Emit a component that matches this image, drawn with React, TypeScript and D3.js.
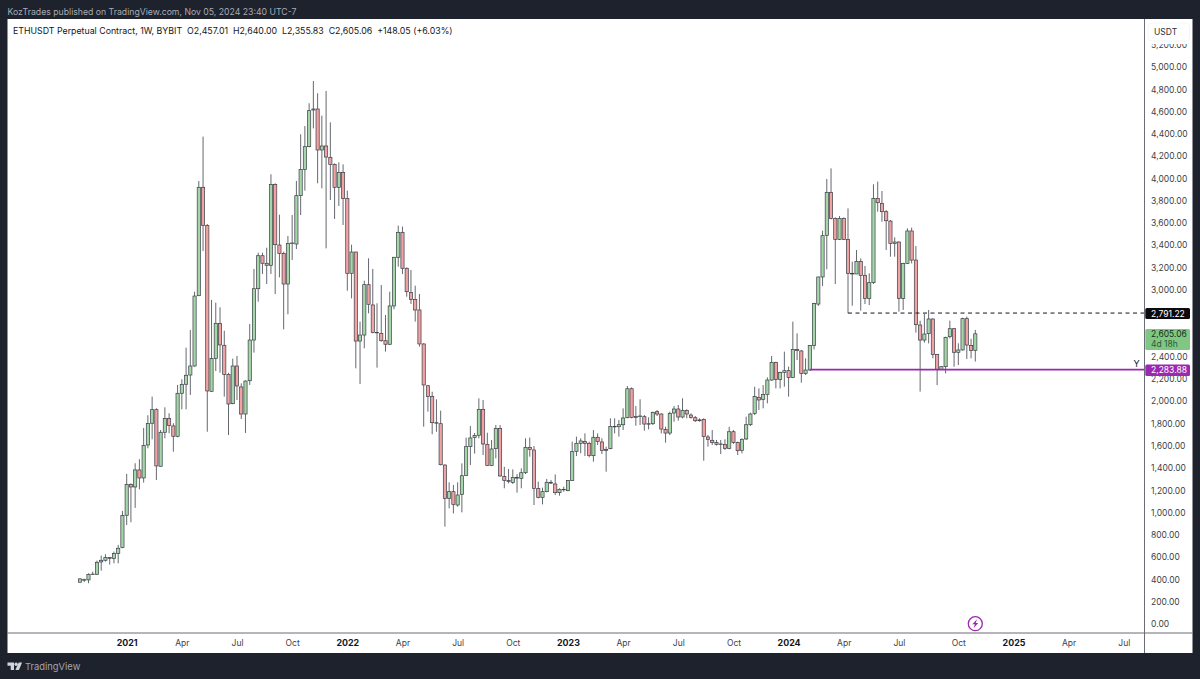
import React, { useEffect, useRef } from "react";
import * as d3 from "d3";

const opens = [
  375, 395, 396, 446, 446, 557, 572, 596, 587, 632,
  686, 976, 1251, 1230, 1383, 1311, 1607, 1802, 1924, 1416,
  1721, 1844, 1778, 1685, 2071, 2152, 2235, 2316, 2947, 3920,
  3576, 2089, 2385, 2699, 2502, 2241, 1978, 2316, 2128, 1885,
  2184, 2549, 3010, 3306, 3238, 3220, 3944, 3402, 3327, 3052,
  3417, 3411, 3845, 4081, 4285, 4614, 4623, 4255, 4291, 4189,
  4126, 3920, 4054, 3821, 3148, 3339, 2540, 2594, 3046, 2864,
  2618, 2609, 2543, 2511, 2855, 3292, 3516, 3193, 2977, 2914,
  2819, 2514, 2139, 2041, 1807, 1798, 1427, 1128, 1188, 1068,
  1164, 1334, 1592, 1673, 1694, 1927, 1613, 1424, 1574, 1756,
  1323, 1287, 1269, 1314, 1308, 1358, 1586, 1562, 1215, 1137,
  1188, 1272, 1257, 1179, 1209, 1197, 1287, 1550, 1622, 1637,
  1622, 1511, 1676, 1634, 1559, 1574, 1774, 1771, 1789, 1852,
  2112, 1855, 1864, 1861, 1795, 1798, 1906, 1885, 1747, 1714,
  1894, 1930, 1858, 1918, 1876, 1852, 1825, 1837, 1679, 1649,
  1628, 1613, 1610, 1577, 1726, 1628, 1559, 1661, 1789, 1891,
  2032, 2017, 2062, 2190, 2349, 2196, 2259, 2274, 2214, 2465,
  2451, 2250, 2280, 2501, 2872, 3115, 3489, 3875, 3641, 3453,
  3641, 3453, 3148, 3142, 3255, 3130, 2923, 3064, 3821, 3776,
  3701, 3617, 3417, 3429, 2923, 3237, 3528, 3267, 2684, 2549,
  2606, 2738, 2418, 2286, 2310, 2579, 2651, 2439, 2460, 2741,
  2501, 2457.01,
];

const highs = [
  410, 407, 455, 470, 569, 614, 626, 599, 650, 710,
  1015, 1347, 1263, 1443, 1479, 1760, 1874, 2041, 1936, 1742,
  1945, 1892, 1802, 2146, 2197, 2480, 2639, 2983, 3977, 4375,
  3590, 2909, 2885, 2843, 2633, 2255, 2382, 2406, 2160, 2187,
  2693, 3187, 3333, 3333, 3378, 4037, 3956, 3674, 3342, 3483,
  3671, 3977, 4396, 4470, 4674, 4874, 4764, 4563, 4785, 4503,
  4135, 4144, 4126, 3890, 3405, 3342, 2714, 3082, 3283, 3187,
  2879, 3043, 2774, 2983, 3295, 3576, 3567, 3202, 3178, 3037,
  2962, 2520, 2145, 2085, 2017, 1915, 1433, 1272, 1248, 1272,
  1442, 1673, 1777, 1715, 2026, 2011, 1717, 1652, 1786, 1786,
  1412, 1391, 1388, 1346, 1397, 1667, 1673, 1598, 1278, 1224,
  1302, 1293, 1343, 1218, 1233, 1293, 1637, 1682, 1667, 1711,
  1637, 1741, 1711, 1667, 1592, 1846, 1846, 1831, 1936, 2136,
  2124, 1957, 2017, 1876, 1855, 1906, 1921, 1891, 1771, 1906,
  1957, 1966, 2026, 1927, 1891, 1867, 1846, 1846, 1697, 1741,
  1652, 1652, 1658, 1771, 1741, 1637, 1667, 1861, 1897, 2130,
  2115, 2145, 2214, 2406, 2355, 2265, 2445, 2310, 2714, 2609,
  2460, 2385, 2504, 2884, 3118, 3531, 3994, 4090, 3650, 3662,
  3650, 3731, 3252, 3357, 3282, 3214, 3148, 3947, 3971, 3887,
  3716, 3626, 3471, 3435, 3243, 3552, 3558, 3393, 2723, 2783,
  2819, 2744, 2424, 2316, 2579, 2723, 2654, 2520, 2750, 2759,
  2560, 2640.0,
];

const lows = [
  372, 377, 366, 440, 440, 479, 560, 533, 545, 545,
  680, 889, 913, 1042, 1209, 1269, 1577, 1658, 1293, 1413,
  1667, 1712, 1547, 1676, 1927, 1927, 2056, 2310, 2944, 3348,
  1726, 2083, 2271, 2256, 2041, 1697, 1972, 2011, 1840, 1715,
  2146, 2436, 2893, 3142, 3052, 3142, 2962, 3112, 2645, 2780,
  3268, 3366, 3671, 3890, 4279, 4449, 3956, 3911, 3372, 3806,
  3636, 3752, 3582, 2992, 2923, 2295, 2155, 2475, 2789, 2609,
  2301, 2534, 2445, 2505, 2825, 3208, 3142, 2938, 2873, 2714,
  2490, 1771, 1906, 1703, 1726, 1424, 874, 1038, 993, 1053,
  1002, 1328, 1427, 1530, 1667, 1517, 1418, 1418, 1487, 1323,
  1218, 1263, 1257, 1179, 1218, 1346, 1502, 1068, 1128, 1074,
  1182, 1257, 1158, 1152, 1188, 1191, 1284, 1508, 1532, 1508,
  1496, 1457, 1607, 1526, 1367, 1568, 1711, 1682, 1741, 1846,
  1846, 1780, 1786, 1735, 1747, 1786, 1867, 1711, 1628, 1696,
  1816, 1825, 1846, 1846, 1843, 1813, 1816, 1466, 1592, 1607,
  1601, 1526, 1562, 1568, 1616, 1517, 1532, 1652, 1777, 1876,
  1921, 1936, 1981, 2184, 2115, 2115, 2130, 2041, 2208, 2370,
  2166, 2235, 2274, 2465, 2855, 3034, 3184, 3632, 3052, 3447,
  3447, 2789, 2857, 3142, 2813, 2872, 2863, 3052, 3701, 3611,
  3357, 3297, 3297, 2804, 2819, 3231, 3237, 2615, 2086, 2525,
  2519, 2385, 2145, 2280, 2250, 2564, 2310, 2325, 2454, 2379,
  2385, 2355.83,
];

const closes = [
  405, 398, 446, 448, 554, 572, 596, 590, 632, 680,
  973, 1251, 1230, 1383, 1311, 1604, 1799, 1924, 1419, 1721,
  1844, 1781, 1685, 2071, 2149, 2233, 2316, 2944, 3920, 3579,
  2092, 2382, 2699, 2505, 2241, 1975, 2316, 2137, 1885, 2181,
  2549, 3010, 3306, 3238, 3220, 3944, 3405, 3327, 3052, 3417,
  3420, 3845, 4081, 4285, 4608, 4623, 4255, 4291, 4192, 4126,
  3920, 4054, 3821, 3148, 3339, 2540, 2594, 3046, 2870, 2618,
  2615, 2543, 2511, 2855, 3292, 3516, 3193, 2983, 2914, 2819,
  2514, 2146, 2041, 1807, 1804, 1430, 1128, 1188, 1074, 1158,
  1331, 1592, 1670, 1691, 1927, 1616, 1424, 1571, 1756, 1329,
  1287, 1280, 1314, 1311, 1358, 1586, 1568, 1218, 1137, 1188,
  1272, 1265, 1179, 1209, 1205, 1287, 1547, 1622, 1643, 1622,
  1514, 1676, 1637, 1559, 1568, 1774, 1772, 1789, 1849, 2112,
  1855, 1864, 1867, 1795, 1798, 1900, 1885, 1750, 1714, 1891,
  1930, 1858, 1918, 1885, 1855, 1825, 1832, 1682, 1655, 1628,
  1613, 1616, 1577, 1726, 1628, 1556, 1658, 1789, 1885, 2041,
  2011, 2059, 2190, 2349, 2196, 2259, 2274, 2214, 2465, 2454,
  2250, 2280, 2501, 2878, 3115, 3486, 3875, 3641, 3453, 3641,
  3453, 3148, 3142, 3255, 3130, 2923, 3064, 3821, 3782, 3701,
  3620, 3417, 3429, 2923, 3237, 3528, 3267, 2687, 2549, 2603,
  2738, 2418, 2286, 2310, 2573, 2651, 2439, 2460, 2741, 2504,
  2454, 2605.06,
];

const firstWeek = new Date(2020, 9, 19);
const lastWeek = new Date(2024, 10, 4);
const weeks = opens.map((_, i) => d3.timeWeek.offset(firstWeek, i));

// 2,600 and 2,800 sit under the price tags, so they are not listed
const priceTicks = [
  0, 200, 400, 600, 800, 1000, 1200, 1400, 1600, 1800, 2000, 2200, 2400,
  3000, 3200, 3400, 3600, 3800, 4000, 4200, 4400, 4600, 4800, 5000, 5200,
];

const timeTicks: [Date, string, boolean][] = [
  [new Date(2021, 0, 4), "2021", true],
  [new Date(2021, 3, 5), "Apr", false],
  [new Date(2021, 6, 5), "Jul", false],
  [new Date(2021, 9, 4), "Oct", false],
  [new Date(2022, 0, 3), "2022", true],
  [new Date(2022, 3, 4), "Apr", false],
  [new Date(2022, 6, 4), "Jul", false],
  [new Date(2022, 9, 3), "Oct", false],
  [new Date(2023, 0, 2), "2023", true],
  [new Date(2023, 3, 3), "Apr", false],
  [new Date(2023, 6, 3), "Jul", false],
  [new Date(2023, 9, 2), "Oct", false],
  [new Date(2024, 0, 1), "2024", true],
  [new Date(2024, 3, 1), "Apr", false],
  [new Date(2024, 6, 1), "Jul", false],
  [new Date(2024, 9, 7), "Oct", false],
  [new Date(2025, 0, 6), "2025", true],
  [new Date(2025, 3, 7), "Apr", false],
  [new Date(2025, 6, 7), "Jul", false],
];

const publishedText = "KozTrades published on TradingView.com, Nov 05, 2024 23:40 UTC-7";
const legendText = "ETHUSDT Perpetual Contract, 1W, BYBIT  O2,457.01  H2,640.00  L2,355.83  C2,605.06  +148.05 (+6.03%)";

const resistance = 2791.22;
const support = 2283.88;
const resistanceStart = 181;
const supportStart = 172;

const WIDTH = 1200;
const HEIGHT = 679;
const FONT = "Inter, 'Noto Sans', sans-serif";
const DARK = "#1e222d";
const UP = "#a5d6a7";
const DOWN = "#f1a3a3";
const CANDLE_EDGE = "#3a3e48";
const PURPLE = "#9c27b0";
const AXIS_LINE = "#6a6d78";
const LABEL = 8.5;

const App: React.FC = () => {
  const svgRef = useRef<SVGSVGElement | null>(null);

  useEffect(() => {
    const svg = d3.select(svgRef.current);
    svg.selectAll("*").remove();

    const plot = { left: 7.5, right: 1144.5, top: 19, bottom: 633, edge: 1192.5, foot: 653 };

    const x = d3.scaleTime().domain([firstWeek, lastWeek]).range([80, 975.3]);
    const y = d3.scaleLinear().domain([0, 5000]).range([624, 67]);

    // Frame
    svg.append("rect").attr("width", WIDTH).attr("height", HEIGHT).attr("fill", DARK);
    svg
      .append("rect")
      .attr("x", plot.left)
      .attr("y", plot.top)
      .attr("width", plot.edge - plot.left)
      .attr("height", plot.foot - plot.top)
      .attr("fill", "#ffffff");

    // Candles
    const candles = svg.append("g");
    weeks.forEach((week, i) => {
      const cx = x(week);
      candles
        .append("line")
        .attr("x1", cx)
        .attr("x2", cx)
        .attr("y1", y(highs[i]!))
        .attr("y2", y(lows[i]!))
        .attr("stroke", "#54575f")
        .attr("stroke-width", 0.9);
    });
    weeks.forEach((week, i) => {
      const cx = x(week);
      const up = closes[i]! >= opens[i]!;
      const top = y(Math.max(opens[i]!, closes[i]!));
      const bottom = y(Math.min(opens[i]!, closes[i]!));
      candles
        .append("rect")
        .attr("x", cx - 1.6)
        .attr("y", top)
        .attr("width", 3.2)
        .attr("height", Math.max(bottom - top, 0.5))
        .attr("fill", up ? UP : DOWN)
        .attr("stroke", CANDLE_EDGE)
        .attr("stroke-width", 0.7);
    });

    // Level lines
    svg
      .append("line")
      .attr("x1", x(weeks[resistanceStart]!))
      .attr("x2", plot.right)
      .attr("y1", y(resistance))
      .attr("y2", y(resistance))
      .attr("stroke", "#131722")
      .attr("stroke-width", 1)
      .attr("stroke-dasharray", "4 3.5");
    svg
      .append("line")
      .attr("x1", x(weeks[supportStart]!))
      .attr("x2", plot.right)
      .attr("y1", y(support))
      .attr("y2", y(support))
      .attr("stroke", PURPLE)
      .attr("stroke-width", 1.6);
    svg
      .append("text")
      .attr("x", 1136.5)
      .attr("y", 366.5)
      .attr("text-anchor", "middle")
      .attr("font-family", FONT)
      .attr("font-size", 9)
      .attr("fill", "#131722")
      .text("Y");

    // Price axis
    const priceAxis = svg
      .append("g")
      .attr("transform", `translate(${plot.right}, 0)`)
      .call(
        d3
          .axisRight(y)
          .tickValues(priceTicks)
          .tickSize(0)
          .tickPadding(6.5)
          .tickFormat((d) => d3.format(",.2f")(d as number))
      );
    priceAxis.select(".domain").remove();
    priceAxis
      .selectAll("text")
      .attr("font-family", FONT)
      .attr("font-size", LABEL)
      .attr("fill", "#3c3f48");

    // Time axis
    const timeAxis = svg
      .append("g")
      .attr("transform", `translate(0, ${plot.bottom})`)
      .call(
        d3
          .axisBottom(x)
          .tickValues(timeTicks.map((t) => t[0]))
          .tickSize(0)
          .tickPadding(7)
          .tickFormat((_, i) => timeTicks[i]![1])
      );
    timeAxis.select(".domain").remove();
    timeAxis
      .selectAll<SVGTextElement, Date>("text")
      .attr("font-family", FONT)
      .attr("font-size", (_, i) => (timeTicks[i]![2] ? 8.9 : LABEL))
      .attr("font-weight", (_, i) => (timeTicks[i]![2] ? 700 : 400))
      .attr("fill", (_, i) => (timeTicks[i]![2] ? "#131722" : "#3c3f48"));

    // Axis lines
    svg
      .append("line")
      .attr("x1", plot.right)
      .attr("x2", plot.right)
      .attr("y1", plot.top)
      .attr("y2", plot.foot)
      .attr("stroke", AXIS_LINE)
      .attr("stroke-width", 1);
    svg
      .append("line")
      .attr("x1", plot.left)
      .attr("x2", plot.edge)
      .attr("y1", plot.bottom)
      .attr("y2", plot.bottom)
      .attr("stroke", AXIS_LINE)
      .attr("stroke-width", 1);

    // Unit box, with a white halo that cuts into the 5,200 label
    svg
      .append("rect")
      .attr("x", 1145.5)
      .attr("y", 20)
      .attr("width", 46.5)
      .attr("height", 24)
      .attr("fill", "#ffffff");
    svg
      .append("rect")
      .attr("x", 1148)
      .attr("y", 23)
      .attr("width", 41.5)
      .attr("height", 18)
      .attr("rx", 4)
      .attr("fill", "#ffffff")
      .attr("stroke", "#eef0f3")
      .attr("stroke-width", 0.7);
    svg
      .append("text")
      .attr("x", 1154)
      .attr("y", 35)
      .attr("font-family", FONT)
      .attr("font-size", LABEL)
      .attr("fill", "#2a2e39")
      .text("USDT");

    // Price tags
    const tag = (top: number, h: number, fill: string) =>
      svg
        .append("rect")
        .attr("x", 1145.3)
        .attr("y", top)
        .attr("width", 44.7)
        .attr("height", h)
        .attr("rx", 1.5)
        .attr("fill", fill);
    const tagText = (base: number, color: string, label: string) =>
      svg
        .append("text")
        .attr("x", 1151)
        .attr("y", base)
        .attr("font-family", FONT)
        .attr("font-size", LABEL)
        .attr("fill", color)
        .text(label);
    tag(308, 11, "#0b0b0d");
    tagText(316.7, "#ffffff", "2,791.22");
    tag(329, 21, "#81c784");
    tagText(337.2, "#12301a", "2,605.06");
    tagText(346.6, "#2c5a38", "4d 18h");
    tag(364.6, 11.4, PURPLE);
    tagText(373.2, "#ffffff", "2,283.88");

    // Header texts
    svg
      .append("text")
      .attr("x", 7.5)
      .attr("y", 14.7)
      .attr("font-family", FONT)
      .attr("font-size", 8.7)
      .attr("fill", "#a8abb5")
      .text(publishedText);
    svg
      .append("text")
      .attr("x", 13)
      .attr("y", 34.2)
      .style("white-space", "pre")
      .attr("font-family", FONT)
      .attr("font-size", 8.8)
      .attr("fill", "#131722")
      .text(legendText);

    // Lightning marker
    const bolt = svg.append("g").attr("transform", `translate(${x(weeks[weeks.length - 1]!)}, 623.7)`);
    bolt
      .append("circle")
      .attr("r", 7)
      .attr("fill", "#ffffff")
      .attr("stroke", PURPLE)
      .attr("stroke-width", 1.3);
    bolt.append("path").attr("d", "M1.7,-4.4 L-3,0.6 L-0.4,0.6 L-1.7,4.4 L3,-0.6 L0.4,-0.6 Z").attr("fill", PURPLE);

    // TradingView logo
    const logo = svg.append("g").attr("transform", "translate(7.5, 662.6)").attr("fill", "#d1d4dc");
    logo.append("path").attr("d", "M0,0 H6.5 V7.4 H3.2 V3.2 H0 Z");
    logo.append("circle").attr("cx", 8.6).attr("cy", 1.7).attr("r", 1.7);
    logo.append("path").attr("d", "M11.2,0 H14.6 L11.4,7.4 H7.9 Z");
    svg
      .append("text")
      .attr("x", 25)
      .attr("y", 669.6)
      .attr("font-family", FONT)
      .attr("font-size", 9.4)
      .attr("fill", "#a3a6af")
      .text("TradingView");
  }, []);

  return (
    <svg
      ref={svgRef}
      width={WIDTH}
      height={HEIGHT}
      style={{ position: "absolute", top: 0, left: 0, display: "block" }}
    />
  );
};

export default App;
